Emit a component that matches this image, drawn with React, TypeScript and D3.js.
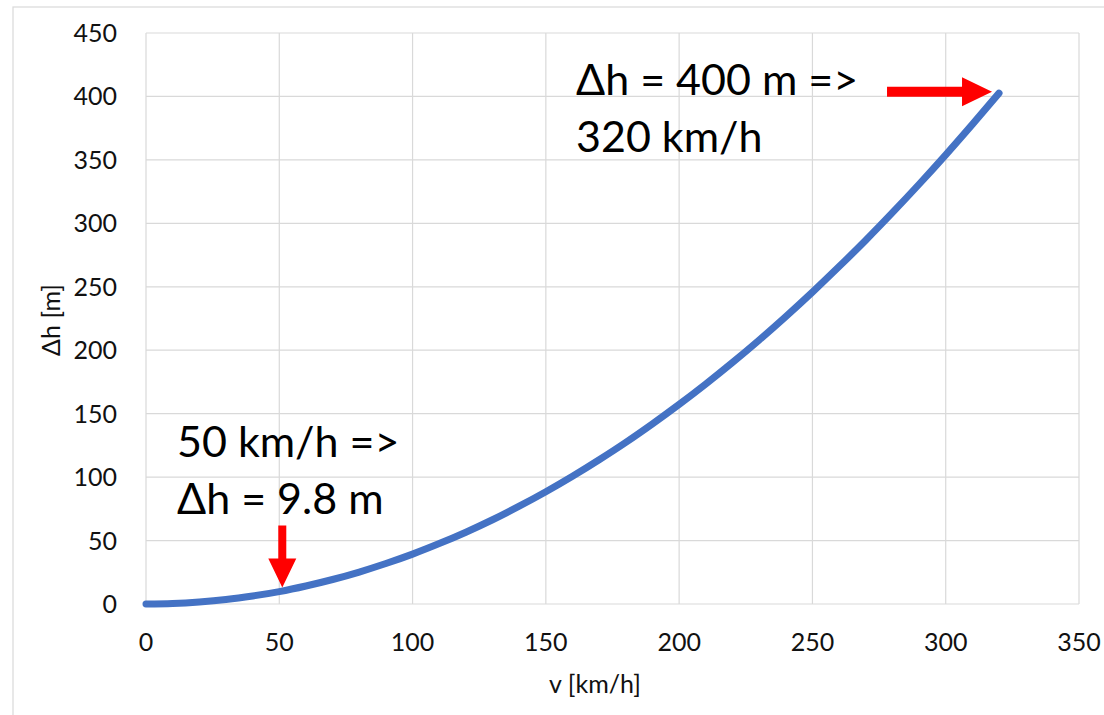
import * as d3 from "d3";

// v [km/h] and Δh [m]
const speeds = [0, 10, 20, 30, 40, 50, 60, 70, 80, 90, 100, 110, 120, 130, 140, 150, 160, 170, 180, 190, 200, 210, 220, 230, 240, 250, 260, 270, 280, 290, 300, 310, 320];
const heights = [0, 0.4, 1.6, 3.5, 6.3, 9.8, 14.2, 19.3, 25.2, 31.9, 39.3, 47.6, 56.6, 66.4, 77.1, 88.5, 100.7, 113.7, 127.4, 142.0, 157.3, 173.4, 190.3, 208.0, 226.5, 245.8, 265.9, 286.7, 308.4, 330.8, 354.0, 378.0, 402.6];

const xTicks = [0, 50, 100, 150, 200, 250, 300, 350];
const yTicks = [0, 50, 100, 150, 200, 250, 300, 350, 400, 450];

// annotation targets
const lowMark = { v: 50, h: 9.8 };
const highMark = { v: 320, h: 402.6 };
const lowText = ["50 km/h =>", "Δh = 9.8 m"];
const highText = ["Δh = 400 m =>", "320 km/h"];

const WIDTH = 1104;
const HEIGHT = 715;
const MARGIN = { top: 33, right: 25, bottom: 111, left: 146 };
const FONT = "Lato, 'Liberation Sans', sans-serif";

export default function App() {
  const boundsWidth = WIDTH - MARGIN.left - MARGIN.right;
  const boundsHeight = HEIGHT - MARGIN.top - MARGIN.bottom;

  const xScale = d3.scaleLinear().domain([0, 350]).range([0, boundsWidth]);
  const yScale = d3.scaleLinear().domain([0, 450]).range([boundsHeight, 0]);

  const points: [number, number][] = speeds.map((v, i) => [v, heights[i]]);
  const line = d3
    .line<[number, number]>()
    .x((d) => xScale(d[0]))
    .y((d) => yScale(d[1]))
    .curve(d3.curveMonotoneX);

  // down arrow pointing at the 50 km/h point
  const lx = xScale(lowMark.v) + 3;
  const ly = yScale(lowMark.h) - 4;
  const downArrow = [
    [lx - 4, ly - 62],
    [lx + 4, ly - 62],
    [lx + 4, ly - 29],
    [lx + 14, ly - 29],
    [lx, ly],
    [lx - 14, ly - 29],
    [lx - 4, ly - 29],
  ];

  // right arrow pointing at the 320 km/h point
  const hx = xScale(highMark.v) - 7;
  const hy = yScale(highMark.h) - 1.5;
  const rightArrow = [
    [hx - 105, hy - 5],
    [hx - 30, hy - 5],
    [hx - 30, hy - 14.5],
    [hx, hy],
    [hx - 30, hy + 14.5],
    [hx - 30, hy + 5],
    [hx - 105, hy + 5],
  ];

  return (
    <svg
      width={WIDTH}
      height={HEIGHT}
      style={{ position: "absolute", left: 0, top: 0, background: "white" }}
      fontFamily={FONT}
    >
      <rect x={13} y={7} width={WIDTH} height={HEIGHT} fill="white" stroke="#d9d9d9" strokeWidth={1.2} />
      <g transform={`translate(${MARGIN.left},${MARGIN.top})`}>
        {xTicks.map((t) => (
          <line key={"gx" + t} x1={xScale(t)} x2={xScale(t)} y1={0} y2={boundsHeight} stroke="#d9d9d9" strokeWidth={1.2} />
        ))}
        {yTicks.map((t) => (
          <line key={"gy" + t} x1={0} x2={boundsWidth} y1={yScale(t)} y2={yScale(t)} stroke="#d9d9d9" strokeWidth={1.2} />
        ))}
        {yTicks.map((t) => (
          <text key={"ly" + t} x={-29} y={yScale(t)} dy="0.36em" textAnchor="end" fontSize={25} fill="#111">
            {t}
          </text>
        ))}
        {xTicks.map((t) => (
          <text key={"lx" + t} x={xScale(t)} y={boundsHeight + 47} textAnchor="middle" fontSize={25} fill="#111">
            {t}
          </text>
        ))}
        <path
          d={line(points) ?? ""}
          fill="none"
          stroke="#4472C4"
          strokeWidth={7}
          strokeLinecap="round"
          strokeLinejoin="round"
        />
        <polygon points={downArrow.map((p) => p.join(",")).join(" ")} fill="#ff0000" />
        <polygon points={rightArrow.map((p) => p.join(",")).join(" ")} fill="#ff0000" />
      </g>
      <text x={177} y={457} fontSize={43} fill="#000">{lowText[0]}</text>
      <text x={177} y={514} fontSize={43} fill="#000">{lowText[1]}</text>
      <text x={576} y={95} fontSize={43} fill="#000">{highText[0]}</text>
      <text x={576} y={152} fontSize={43} fill="#000">{highText[1]}</text>
      <text x={595} y={693} textAnchor="middle" fontSize={25} fill="#111">v [km/h]</text>
      <text transform="translate(60,320) rotate(-90)" textAnchor="middle" fontSize={25} fill="#111">Δh [m]</text>
    </svg>
  );
}
